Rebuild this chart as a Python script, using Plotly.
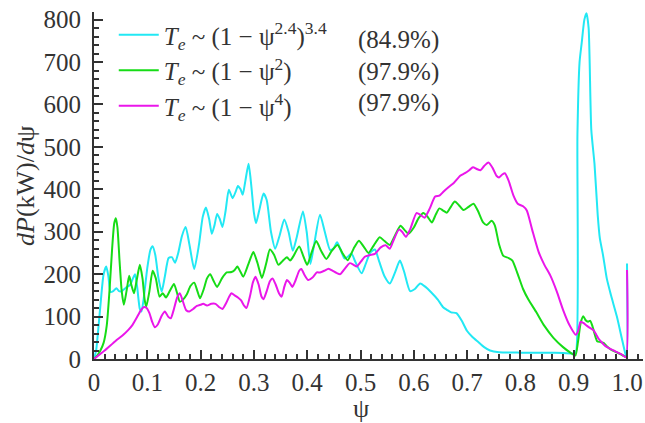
import plotly.graph_objects as go

# Normalised flux coordinate and dP/dpsi profiles (kW) for three Te profile shapes
psi_a = [0.000, 0.004, 0.008, 0.013, 0.018, 0.023, 0.027, 0.031, 0.036, 0.042, 0.047, 0.052,
         0.057, 0.062, 0.068, 0.073, 0.077, 0.081, 0.086, 0.089, 0.094, 0.100, 0.106, 0.110,
         0.115, 0.121, 0.127, 0.133, 0.140, 0.146, 0.152, 0.158, 0.165, 0.172, 0.179, 0.188,
         0.197, 0.204, 0.210, 0.216, 0.221, 0.226, 0.231, 0.236, 0.241, 0.247, 0.253, 0.260,
         0.266, 0.270, 0.275, 0.279, 0.284, 0.290, 0.295, 0.300, 0.304, 0.310, 0.318, 0.324,
         0.332, 0.340, 0.348, 0.357, 0.365, 0.373, 0.380, 0.392, 0.399, 0.406, 0.413, 0.424,
         0.433, 0.443, 0.450, 0.456, 0.462, 0.470, 0.477, 0.483, 0.490, 0.502, 0.510, 0.518,
         0.527, 0.535, 0.545, 0.555, 0.565, 0.574, 0.582, 0.593, 0.602, 0.612, 0.622, 0.632,
         0.645, 0.655, 0.662, 0.670, 0.680, 0.690, 0.700, 0.710, 0.721, 0.732, 0.743, 0.760,
         0.800, 0.850, 0.880, 0.900, 0.904, 0.907, 0.911, 0.915, 0.920, 0.924, 0.928, 0.933,
         0.939, 0.945, 0.949, 0.955, 0.962, 0.970, 0.981, 0.990, 0.997, 0.9995, 1.000]
dp_a = [0, 20, 70, 140, 200, 218, 195, 158, 160, 167, 160, 160,
        165, 170, 175, 190, 200, 170, 118, 112, 150, 215, 258, 266,
        245, 190, 159, 195, 238, 240, 227, 250, 290, 311, 270, 212,
        270, 335, 357, 330, 295, 315, 342, 330, 311, 350, 399, 379,
        395, 408, 400, 387, 420, 460, 410, 345, 320, 350, 390, 375,
        300, 260, 290, 329, 300, 255, 285, 348, 300, 224, 270, 340,
        300, 257, 262, 275, 260, 237, 242, 249, 230, 202, 225, 250,
        258, 230, 195, 178, 205, 232, 205, 160, 165, 178, 170, 158,
        140, 122, 116, 110, 108, 90, 66, 52, 40, 28, 20, 16,
        15, 15, 14, 13, 15, 530, 700, 745, 800, 815, 780, 540,
        460, 340, 285, 245, 190, 150, 100, 50, 12, 4, 225]

psi_b = [0.000, 0.006, 0.012, 0.018, 0.024, 0.029, 0.034, 0.038, 0.041, 0.044, 0.048, 0.052,
         0.056, 0.061, 0.066, 0.070, 0.075, 0.080, 0.086, 0.091, 0.095, 0.098, 0.104, 0.110,
         0.116, 0.123, 0.129, 0.135, 0.142, 0.150, 0.156, 0.161, 0.167, 0.174, 0.181, 0.188,
         0.194, 0.199, 0.206, 0.212, 0.218, 0.224, 0.231, 0.240, 0.249, 0.258, 0.264, 0.269,
         0.275, 0.280, 0.290, 0.299, 0.307, 0.315, 0.323, 0.330, 0.338, 0.346, 0.353, 0.362,
         0.368, 0.373, 0.385, 0.392, 0.400, 0.408, 0.417, 0.426, 0.436, 0.446, 0.457, 0.466,
         0.476, 0.487, 0.497, 0.506, 0.515, 0.525, 0.536, 0.545, 0.555, 0.565, 0.575, 0.582,
         0.590, 0.600, 0.609, 0.618, 0.626, 0.634, 0.641, 0.648, 0.655, 0.662, 0.670, 0.677,
         0.685, 0.693, 0.702, 0.712, 0.720, 0.730, 0.737, 0.746, 0.752, 0.760, 0.768, 0.778,
         0.785, 0.795, 0.805, 0.815, 0.830, 0.845, 0.862, 0.880, 0.895, 0.903, 0.908, 0.913,
         0.918, 0.922, 0.927, 0.931, 0.935, 0.939, 0.944, 0.950, 0.956, 0.962, 0.970, 0.980,
         0.990, 1.000]
dp_b = [0, 8, 20, 38, 80, 160, 260, 320, 332, 310, 230, 160,
        128, 160, 196, 175, 155, 185, 222, 190, 140, 123, 160, 208,
        190, 147, 155, 145, 160, 177, 155, 135, 140, 152, 172, 180,
        160, 143, 165, 190, 200, 185, 170, 190, 204, 205, 210, 218,
        205, 194, 225, 252, 225, 191, 225, 258, 245, 222, 230, 240,
        232, 240, 265, 245, 222, 250, 278, 255, 236, 255, 269, 250,
        233, 260, 279, 265, 250, 268, 287, 278, 269, 292, 314, 305,
        295, 310, 332, 344, 335, 322, 340, 355, 350, 345, 360, 371,
        362, 351, 358, 366, 350, 322, 316, 326, 315, 270, 243, 238,
        232, 200, 165, 140, 110, 78, 50, 28, 14, 8, 40, 85,
        101, 92, 88, 90, 78, 60, 42, 40, 38, 30, 22, 16,
        10, 3]

psi_c = [0.000, 0.020, 0.040, 0.055, 0.064, 0.072, 0.080, 0.087, 0.093, 0.098, 0.104, 0.109,
         0.114, 0.120, 0.127, 0.133, 0.139, 0.144, 0.150, 0.156, 0.161, 0.167, 0.173, 0.179,
         0.186, 0.193, 0.200, 0.205, 0.212, 0.220, 0.228, 0.235, 0.241, 0.248, 0.254, 0.258,
         0.264, 0.270, 0.276, 0.282, 0.286, 0.293, 0.298, 0.303, 0.309, 0.314, 0.318, 0.324,
         0.330, 0.335, 0.341, 0.347, 0.352, 0.357, 0.362, 0.367, 0.372, 0.378, 0.385, 0.389,
         0.395, 0.402, 0.410, 0.418, 0.424, 0.432, 0.440, 0.448, 0.455, 0.462, 0.470, 0.480,
         0.487, 0.493, 0.501, 0.508, 0.517, 0.527, 0.538, 0.547, 0.555, 0.562, 0.572, 0.578,
         0.585, 0.593, 0.605, 0.612, 0.620, 0.630, 0.640, 0.648, 0.656, 0.665, 0.675, 0.687,
         0.696, 0.704, 0.711, 0.718, 0.725, 0.732, 0.740, 0.748, 0.755, 0.760, 0.766, 0.771,
         0.778, 0.787, 0.795, 0.805, 0.812, 0.822, 0.834, 0.845, 0.856, 0.868, 0.880, 0.892,
         0.904, 0.908, 0.913, 0.918, 0.925, 0.932, 0.937, 0.942, 0.946, 0.952, 0.959, 0.967,
         0.975, 0.983, 0.991, 0.998, 1.000]
dp_c = [0, 20, 42, 57, 68, 80, 97, 113, 122, 121, 108, 88,
        75, 82, 102, 112, 100, 96, 118, 145, 155, 135, 115, 112,
        118, 125, 128, 130, 126, 130, 130, 122, 118, 132, 148, 155,
        150, 145, 138, 125, 120, 150, 180, 194, 175, 148, 141, 160,
        183, 190, 175, 155, 147, 170, 186, 180, 170, 185, 208, 212,
        198, 186, 192, 204, 204, 208, 213, 208, 203, 200, 212, 226,
        222, 218, 230, 241, 245, 248, 263, 268, 260, 280, 305, 300,
        288, 305, 344, 340, 333, 355, 383, 385, 395, 405, 415, 432,
        438, 445, 452, 448, 445, 455, 463, 450, 432, 428, 435, 438,
        420, 385, 366, 360, 350, 305, 253, 222, 197, 160, 116, 80,
        57, 65, 88, 85, 78, 72, 68, 58, 49, 40, 31, 25,
        20, 15, 10, 4, 210]

names = [
    "<i>T<sub>e</sub></i> ~ (1 − ψ<sup>2.4</sup>)<sup>3.4</sup>",
    "<i>T<sub>e</sub></i> ~ (1 − ψ<sup>2</sup>)",
    "<i>T<sub>e</sub></i> ~ (1 − ψ<sup>4</sup>)",
]
shares = ["(84.9%)", "(97.9%)", "(97.9%)"]
colors = ["#22E8F4", "#16DC16", "#EA16EA"]

x_ticks = [0, 0.1, 0.2, 0.3, 0.4, 0.5, 0.6, 0.7, 0.8, 0.9, 1.0]
x_labels = ["0", "0.1", "0.2", "0.3", "0.4", "0.5", "0.6", "0.7", "0.8", "0.9", "1.0"]
y_ticks = [0, 100, 200, 300, 400, 500, 600, 700, 800]

FONT = "Liberation Serif"
INK = "#333333"

fig = go.Figure()
for xs, ys, name, col in zip([psi_a, psi_b, psi_c], [dp_a, dp_b, dp_c], names, colors):
    fig.add_trace(go.Scatter(
        x=xs, y=ys, mode="lines", name=name,
        line=dict(color=col, width=2, shape="spline", smoothing=0.6),
    ))

axis_common = dict(
    showline=True, linecolor=INK, linewidth=2, showgrid=False, zeroline=False,
    ticks="inside", ticklen=9, tickwidth=1.5, tickcolor=INK,
    tickfont=dict(family=FONT, size=25, color=INK), mirror=False,
)

fig.update_xaxes(
    range=[0, 1.03], tickvals=x_ticks, ticktext=x_labels,
    minor=dict(dtick=0.02, tick0=0, ticks="inside", ticklen=5, tickwidth=1.5, tickcolor=INK),
    **axis_common,
)
fig.update_yaxes(
    range=[0, 818], tickvals=y_ticks, ticklabelstandoff=6,
    minor=dict(dtick=20, tick0=0, ticks="inside", ticklen=5, tickwidth=1.5, tickcolor=INK),
    **axis_common,
)

annotations = [
    dict(text="ψ", x=0.5, y=(359 - 408) / 347, xref="x", yref="paper", showarrow=False,
         xanchor="center", yanchor="middle", font=dict(family=FONT, size=26, color=INK)),
    dict(text="<i>dP</i>(kW)/<i>d</i>ψ", x=0, y=(359 - 186) / 347, xref="paper", yref="paper",
         xanchor="center", yanchor="middle", xshift=-69, textangle=-90, showarrow=False,
         font=dict(family=FONT, size=26, color=INK)),
]
share_y = [0.919, 0.827, 0.738]
for s, yy in zip(shares, share_y):
    annotations.append(dict(text=s, x=0.477, y=yy, xref="paper", yref="paper",
                            xanchor="left", yanchor="middle", showarrow=False,
                            font=dict(family=FONT, size=25, color=INK)))

fig.update_layout(
    width=645, height=423,
    margin=dict(l=94, r=2, t=12, b=64),
    paper_bgcolor="white", plot_bgcolor="white",
    font=dict(family=FONT, size=25, color=INK),
    showlegend=True,
    legend=dict(x=0.036, y=1.0, xanchor="left", yanchor="top",
                bgcolor="rgba(0,0,0,0)", itemwidth=40,
                font=dict(family=FONT, size=25, color=INK)),
    annotations=annotations,
)

fig.write_html("out.html")
